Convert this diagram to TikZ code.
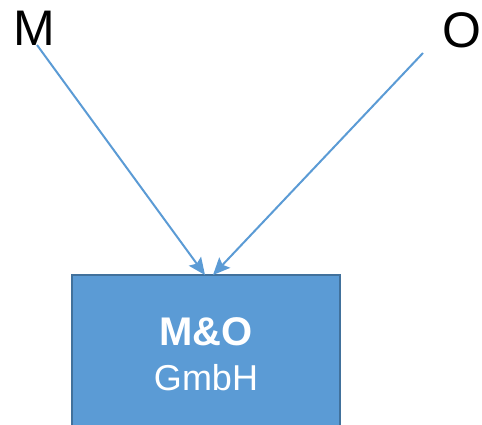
\documentclass[tikz,border=0pt]{standalone}
\usepackage{fontspec}
\setmainfont{Liberation Sans}
\usetikzlibrary{arrows.meta}
\definecolor{boxblue}{HTML}{5B9BD5}
\definecolor{boxedge}{HTML}{41719C}

\begin{document}
\begin{tikzpicture}
  [x=1pt, y=-1pt,
   letter/.style={inner sep=0pt, font=\fontsize{50}{60}\selectfont},
   firm/.style={draw=boxedge, line width=1.5pt, fill=boxblue, text=white,
     minimum width=268pt, minimum height=158pt, align=center,
     font=\fontsize{36}{45}\selectfont},
   link/.style={boxblue, line width=2pt,
     -{Stealth[length=17pt, width=15pt, inset=3pt]}}]
  \useasboundingbox (0, 0) rectangle (482, 425);
  \node[letter] (m) at (34.5, 28) {M};
  \node[letter] (o) at (462, 30) {O};
  \node[firm] (gmbh) at (206, 354)
    {{\fontsize{40}{45}\selectfont\bfseries M\&O}\\GmbH};

  \coordinate (m0) at (37, 45);
  \coordinate (o0) at (423, 53);
  \coordinate (m1) at (205, 275);
  \coordinate (o1) at (213, 275);
  \foreach \from/\to in {m0/m1,o0/o1}
  \draw[link] (\from) -- (\to);
\end{tikzpicture}
\end{document}
